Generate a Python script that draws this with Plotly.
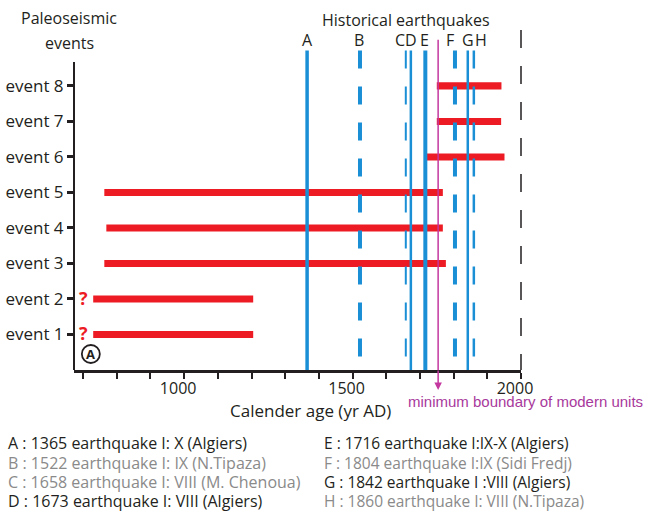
import plotly.graph_objects as go

# ---------------- data ----------------
event_labels = ["event 1", "event 2", "event 3", "event 4", "event 5", "event 6", "event 7", "event 8"]
event_pos = [1, 2, 3, 4, 5, 6, 7, 8]
event_start = [730, 730, 763, 769, 763, 1717, 1750, 1750]
event_end = [1205, 1205, 1777, 1768, 1768, 1951, 1941, 1942]
uncertain_events = [1, 2]

quake_letters = ["A", "B", "C", "D", "E", "F", "G", "H"]
quake_years = [1365, 1522, 1658, 1673, 1716, 1804, 1842, 1860]
quake_dashed = [False, True, True, False, False, True, False, True]
quake_width = [3.5, 4, 2, 2.5, 4, 4, 2.5, 2.5]
letter_shift = [0, -1, -6, 0, -1, -5, 0, 7]
legend_texts = [
    "A : 1365 earthquake I: X (Algiers)",
    "B : 1522 earthquake I: IX (N.Tipaza)",
    "C : 1658 earthquake I: VIII (M. Chenoua)",
    "D : 1673 earthquake I: VIII (Algiers)",
    "E : 1716 earthquake I:IX-X (Algiers)",
    "F : 1804 earthquake I:IX (Sidi Fredj)",
    "G : 1842 earthquake I :VIII (Algiers)",
    "H : 1860 earthquake I: VIII (N.Tipaza)",
]
legend_grey = [False, True, True, False, False, True, False, True]

min_boundary_year = 1754
x_tickvals = list(range(700, 2001, 100))
x_ticklabels = ["1000", "1500", "2000"]

# ---------------- layout geometry ----------------
W, H = 648, 515
L, R, T, B = 74, 521, 22, 370
XMIN, XMAX = 673, 2000
YMIN, YMAX = 0, 9.8


def px2paper_x(px):
    return (px - L) / (R - L)


def px2paper_y(py):
    return (B - py) / (B - T)


BLUE = "#1b8fd6"
RED = "#ed1c24"
MAG = "#c4379f"
MAGTXT = "#a8399c"
BLACK = "#231f20"
GREY = "#8a8a8a"
FONT = "Open Sans"

fig = go.Figure()

# historical earthquakes (vertical lines)
for yr, dashed, w in zip(quake_years, quake_dashed, quake_width):
    fig.add_trace(go.Scatter(
        x=[yr, yr], y=[9.0, 0], mode="lines",
        line=dict(color=BLUE, width=w, dash="18px,18px" if dashed else "solid"),
        hoverinfo="skip", showlegend=False))

# minimum boundary of modern units
fig.add_trace(go.Scatter(
    x=[min_boundary_year, min_boundary_year], y=[9.3, 0], mode="lines",
    line=dict(color=MAG, width=1.5), hoverinfo="skip", showlegend=False))

# paleoseismic event bars
fig.add_trace(go.Bar(
    y=event_pos, x=[e - s for s, e in zip(event_start, event_end)], base=event_start,
    orientation="h", width=0.2, marker=dict(color=RED, line=dict(width=0)),
    hoverinfo="skip", showlegend=False))

annotations = []
shapes = []


def txt(text, x, y, size=16, color=BLACK, family=FONT, xref="paper", yref="paper",
        xanchor="center", yanchor="middle", **kw):
    d = dict(text=text, xref=xref, yref=yref, x=x, y=y, showarrow=False,
             xanchor=xanchor, yanchor=yanchor,
             font=dict(size=size, color=color, family=family))
    d.update(kw)
    annotations.append(d)


# titles
txt("Paleoseismic", px2paper_x(69), px2paper_y(18))
txt("events", px2paper_x(69), px2paper_y(43))
txt("Historical earthquakes", px2paper_x(406), px2paper_y(20))

# quake letters
for letter, yr, sh in zip(quake_letters, quake_years, letter_shift):
    txt(letter, yr, px2paper_y(40), xref="x", xshift=sh)

# question marks for uncertain events
for ev in uncertain_events:
    txt("<b>?</b>", 700, ev, size=18, color=RED, xref="x", yref="y", yshift=1)

# circled A
shapes.append(dict(type="circle", xref="x", yref="y", xsizemode="pixel", ysizemode="pixel",
                   xanchor=723, yanchor=0.45, x0=-9, x1=9, y0=-9, y1=9,
                   line=dict(color=BLACK, width=1.8)))
txt("<b>A</b>", 723, 0.45, size=13, xref="x", yref="y")

# arrow of the minimum boundary
annotations.append(dict(text="", xref="x", yref="paper", x=min_boundary_year,
                        y=px2paper_y(390), ax=0, ay=-21, showarrow=True,
                        arrowhead=2, arrowsize=1, arrowwidth=1.5, arrowcolor=MAG))
txt("minimum boundary of modern units", px2paper_x(525), px2paper_y(402),
    size=15, color=MAGTXT, family="Liberation Sans")

# x title
txt("Calender age (yr AD)", px2paper_x(310), px2paper_y(410), size=17)

# legend texts
rows_y = [443, 462.5, 482, 501.5]
for i, (t, grey) in enumerate(zip(legend_texts, legend_grey)):
    col_x = 6 if i < 4 else 322
    txt(t, px2paper_x(col_x), px2paper_y(rows_y[i % 4]), color=GREY if grey else BLACK,
        xanchor="left", size=16 if i < 4 else 15.5)

# y axis line (partial)
shapes.append(dict(type="line", xref="paper", yref="paper", x0=0, x1=0,
                   y0=0, y1=px2paper_y(62), line=dict(color=BLACK, width=2)))
# dashed line at 2000
shapes.append(dict(type="line", xref="paper", yref="paper", x0=1, x1=1,
                   y0=px2paper_y(30), y1=0,
                   line=dict(color=BLACK, width=1.5, dash="18px,18px")))

fig.update_layout(
    width=W, height=H,
    margin=dict(l=L, r=W - R, t=T, b=H - B, autoexpand=False),
    plot_bgcolor="white", paper_bgcolor="white",
    showlegend=False,
    font=dict(family=FONT, size=16, color=BLACK),
    xaxis=dict(range=[XMIN, XMAX], showgrid=False, zeroline=False, automargin=False,
               showline=True, linecolor=BLACK, linewidth=2.5,
               tickmode="array", tickvals=x_tickvals,
               ticktext=[str(v) if str(v) in x_ticklabels else "" for v in x_tickvals],
               ticks="outside", ticklen=6, tickwidth=1.5, tickcolor=BLACK,
               ticklabelshift=-6, ticklabelstandoff=-4,
               tickfont=dict(size=16, color=BLACK, family=FONT)),
    yaxis=dict(range=[YMIN, YMAX], showgrid=False, zeroline=False, showline=False,
               automargin=False,
               tickmode="array", tickvals=event_pos, ticktext=event_labels,
               ticks="outside", ticklen=6, tickwidth=2.5, tickcolor=BLACK,
               tickfont=dict(size=17, color=BLACK, family=FONT)),
    annotations=annotations, shapes=shapes,
)

fig.write_html("out.html", config={"displayModeBar": False},
               post_script="document.body.style.margin='0px';")
